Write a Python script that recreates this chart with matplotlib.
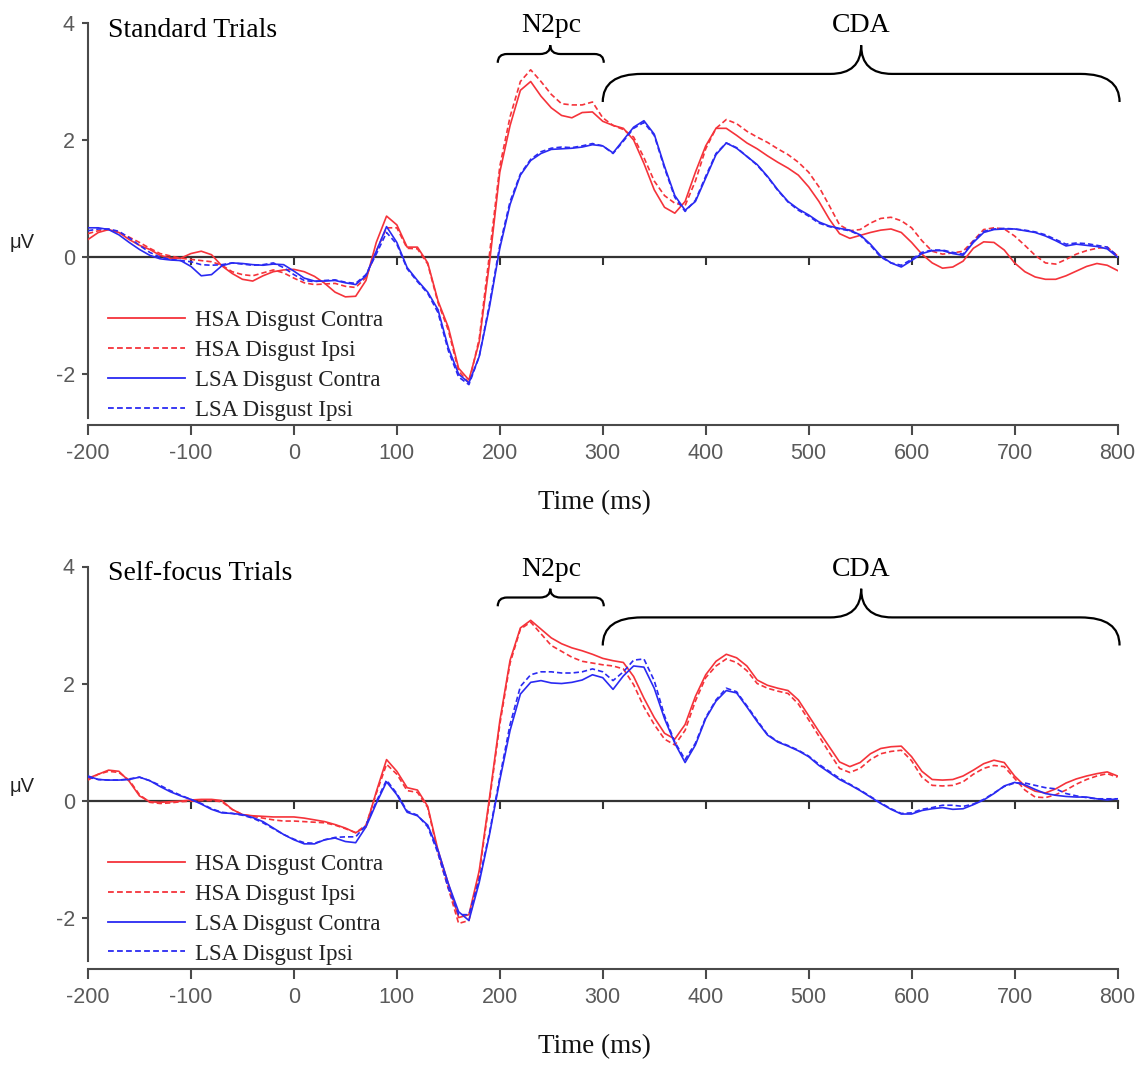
import numpy as np
import matplotlib
matplotlib.use("Agg")
import matplotlib.pyplot as plt
from matplotlib.path import Path
from matplotlib.patches import PathPatch
from matplotlib.lines import Line2D

plt.rcParams['axes.unicode_minus'] = False

# ---------------- data ----------------
times = list(range(-200, 801, 10))

series_labels = ["HSA Disgust Contra", "HSA Disgust Ipsi", "LSA Disgust Contra", "LSA Disgust Ipsi"]
panel_titles = ["Standard Trials", "Self-focus Trials"]
x_ticks = list(range(-200, 801, 100))
y_ticks = [-2, 0, 2, 4]
components = ["N2pc", "CDA"]

std_hsa_contra = [
    0.30, 0.42, 0.47, 0.42, 0.30, 0.20, 0.13, 0.03, -0.02, -0.02,
    0.06, 0.10, 0.04, -0.15, -0.28, -0.38, -0.41, -0.32, -0.25, -0.22,
    -0.21, -0.25, -0.33, -0.45, -0.60, -0.68, -0.67, -0.40, 0.25, 0.70,
    0.55, 0.17, 0.17, -0.10, -0.75, -1.20, -1.90, -2.10, -1.45, -0.10,
    1.45, 2.25, 2.85, 3.00, 2.75, 2.55, 2.42, 2.38, 2.47, 2.48,
    2.32, 2.25, 2.20, 2.00, 1.60, 1.15, 0.85, 0.75, 0.95, 1.45,
    1.90, 2.20, 2.20, 2.08, 1.95, 1.85, 1.73, 1.62, 1.52, 1.40,
    1.20, 0.95, 0.65, 0.40, 0.32, 0.37, 0.42, 0.46, 0.48, 0.42,
    0.25, 0.05, -0.10, -0.19, -0.17, -0.07, 0.15, 0.26, 0.25, 0.12,
    -0.10, -0.25, -0.34, -0.38, -0.38, -0.32, -0.24, -0.16, -0.11, -0.14,
    -0.23]
std_hsa_ipsi = [
    0.40, 0.45, 0.47, 0.42, 0.34, 0.25, 0.15, 0.06, 0.02, -0.02,
    -0.04, -0.06, -0.08, -0.14, -0.25, -0.30, -0.32, -0.27, -0.22, -0.27,
    -0.36, -0.44, -0.47, -0.46, -0.45, -0.50, -0.52, -0.35, 0.10, 0.50,
    0.50, 0.15, 0.14, -0.12, -0.78, -1.25, -1.95, -2.15, -1.40, 0.05,
    1.55, 2.40, 3.00, 3.20, 3.00, 2.78, 2.62, 2.60, 2.60, 2.65,
    2.38, 2.25, 2.18, 2.05, 1.70, 1.30, 1.05, 0.92, 0.88, 1.30,
    1.85, 2.20, 2.35, 2.28, 2.15, 2.05, 1.96, 1.85, 1.75, 1.62,
    1.45, 1.20, 0.88, 0.55, 0.45, 0.47, 0.58, 0.66, 0.68, 0.62,
    0.50, 0.28, 0.10, 0.05, 0.07, 0.10, 0.28, 0.47, 0.50, 0.48,
    0.36, 0.20, 0.03, -0.10, -0.12, -0.04, 0.05, 0.11, 0.15, 0.17,
    0.02]
std_lsa_contra = [
    0.50, 0.50, 0.47, 0.38, 0.25, 0.13, 0.03, -0.03, -0.05, -0.06,
    -0.16, -0.32, -0.30, -0.15, -0.10, -0.11, -0.13, -0.14, -0.12, -0.13,
    -0.24, -0.36, -0.41, -0.41, -0.40, -0.44, -0.47, -0.32, 0.10, 0.52,
    0.25, -0.18, -0.40, -0.60, -0.90, -1.55, -2.00, -2.15, -1.70, -0.85,
    0.15, 0.90, 1.40, 1.65, 1.77, 1.84, 1.85, 1.86, 1.88, 1.92,
    1.90, 1.78, 2.00, 2.22, 2.33, 2.10, 1.55, 1.05, 0.80, 0.95,
    1.35, 1.75, 1.95, 1.86, 1.72, 1.58, 1.38, 1.15, 0.95, 0.82,
    0.72, 0.60, 0.53, 0.49, 0.46, 0.38, 0.22, 0.02, -0.10, -0.17,
    -0.06, 0.06, 0.11, 0.11, 0.06, 0.03, 0.25, 0.42, 0.47, 0.48,
    0.48, 0.45, 0.42, 0.36, 0.28, 0.19, 0.22, 0.20, 0.18, 0.14,
    0.00]
std_lsa_ipsi = [
    0.45, 0.48, 0.48, 0.44, 0.33, 0.20, 0.08, 0.00, -0.04, -0.06,
    -0.08, -0.13, -0.14, -0.13, -0.10, -0.12, -0.14, -0.13, -0.10, -0.18,
    -0.30, -0.40, -0.42, -0.40, -0.39, -0.43, -0.45, -0.30, 0.05, 0.42,
    0.22, -0.20, -0.42, -0.62, -0.95, -1.60, -2.05, -2.18, -1.70, -0.80,
    0.20, 0.95, 1.42, 1.67, 1.80, 1.86, 1.88, 1.87, 1.90, 1.94,
    1.90, 1.77, 1.98, 2.20, 2.30, 2.08, 1.52, 1.02, 0.78, 0.97,
    1.38, 1.77, 1.95, 1.87, 1.72, 1.57, 1.37, 1.14, 0.94, 0.80,
    0.70, 0.58, 0.52, 0.48, 0.45, 0.37, 0.20, 0.00, -0.10, -0.14,
    -0.04, 0.08, 0.12, 0.12, 0.08, 0.05, 0.27, 0.44, 0.48, 0.49,
    0.48, 0.46, 0.43, 0.38, 0.30, 0.22, 0.24, 0.23, 0.20, 0.17,
    0.02]

self_hsa_contra = [
    0.38, 0.45, 0.52, 0.50, 0.33, 0.08, -0.02, -0.03, -0.02, -0.01,
    0.01, 0.02, 0.02, 0.00, -0.15, -0.24, -0.26, -0.27, -0.28, -0.28,
    -0.28, -0.30, -0.33, -0.36, -0.41, -0.47, -0.55, -0.45, 0.15, 0.70,
    0.50, 0.22, 0.18, -0.10, -0.85, -1.42, -2.00, -1.95, -1.20, 0.05,
    1.36, 2.40, 2.95, 3.08, 2.93, 2.78, 2.68, 2.61, 2.56, 2.50,
    2.43, 2.39, 2.36, 2.12, 1.75, 1.42, 1.15, 1.05, 1.30, 1.78,
    2.15, 2.38, 2.50, 2.44, 2.30, 2.06, 1.97, 1.92, 1.88, 1.72,
    1.45, 1.18, 0.92, 0.66, 0.58, 0.65, 0.80, 0.89, 0.92, 0.93,
    0.75, 0.50, 0.36, 0.35, 0.36, 0.42, 0.52, 0.63, 0.69, 0.65,
    0.42, 0.25, 0.16, 0.13, 0.20, 0.30, 0.37, 0.42, 0.46, 0.49,
    0.42]
self_hsa_ipsi = [
    0.35, 0.45, 0.50, 0.48, 0.35, 0.10, -0.03, -0.05, -0.04, -0.02,
    -0.01, 0.00, 0.00, -0.02, -0.15, -0.24, -0.27, -0.30, -0.33, -0.35,
    -0.35, -0.36, -0.37, -0.38, -0.42, -0.48, -0.55, -0.42, 0.12, 0.62,
    0.45, 0.17, 0.14, -0.12, -0.90, -1.50, -2.10, -2.05, -1.25, 0.00,
    1.30, 2.35, 2.93, 3.05, 2.85, 2.65, 2.55, 2.45, 2.38, 2.35,
    2.32, 2.30, 2.25, 1.98, 1.60, 1.30, 1.05, 0.95, 1.20, 1.70,
    2.10, 2.30, 2.42, 2.36, 2.22, 2.00, 1.92, 1.87, 1.83, 1.65,
    1.38, 1.10, 0.82, 0.55, 0.48, 0.55, 0.70, 0.80, 0.84, 0.86,
    0.68, 0.40, 0.26, 0.25, 0.26, 0.32, 0.45, 0.55, 0.60, 0.58,
    0.38, 0.18, 0.06, 0.05, 0.10, 0.18, 0.28, 0.36, 0.42, 0.46,
    0.40]
self_lsa_contra = [
    0.42, 0.36, 0.35, 0.35, 0.36, 0.40, 0.34, 0.24, 0.15, 0.08,
    0.02, -0.06, -0.15, -0.21, -0.22, -0.24, -0.29, -0.36, -0.47, -0.58,
    -0.67, -0.74, -0.74, -0.67, -0.64, -0.70, -0.72, -0.45, -0.05, 0.32,
    0.10, -0.20, -0.26, -0.42, -0.85, -1.42, -1.90, -2.05, -1.40, -0.58,
    0.35, 1.20, 1.82, 2.02, 2.05, 2.01, 2.00, 2.02, 2.06, 2.15,
    2.10, 1.90, 2.13, 2.30, 2.28, 1.92, 1.40, 0.98, 0.65, 0.95,
    1.40, 1.70, 1.88, 1.84, 1.60, 1.35, 1.12, 1.00, 0.93, 0.85,
    0.75, 0.60, 0.48, 0.36, 0.27, 0.17, 0.06, -0.05, -0.15, -0.23,
    -0.23, -0.17, -0.14, -0.12, -0.15, -0.14, -0.07, 0.01, 0.12, 0.25,
    0.31, 0.27, 0.19, 0.12, 0.09, 0.07, 0.06, 0.06, 0.03, 0.01,
    0.03]
self_lsa_ipsi = [
    0.40, 0.36, 0.35, 0.35, 0.37, 0.40, 0.34, 0.26, 0.17, 0.09,
    0.02, -0.05, -0.14, -0.20, -0.22, -0.25, -0.30, -0.38, -0.48, -0.58,
    -0.66, -0.72, -0.73, -0.67, -0.63, -0.62, -0.62, -0.42, -0.02, 0.35,
    0.12, -0.18, -0.25, -0.45, -0.90, -1.50, -1.95, -1.95, -1.35, -0.55,
    0.40, 1.30, 1.95, 2.15, 2.20, 2.20, 2.18, 2.18, 2.20, 2.25,
    2.20, 2.05, 2.20, 2.40, 2.42, 2.05, 1.45, 1.00, 0.70, 0.98,
    1.42, 1.72, 1.92, 1.86, 1.62, 1.37, 1.13, 1.01, 0.94, 0.86,
    0.76, 0.62, 0.50, 0.38, 0.28, 0.18, 0.07, -0.04, -0.14, -0.22,
    -0.21, -0.15, -0.12, -0.08, -0.08, -0.10, -0.06, 0.02, 0.13, 0.24,
    0.30, 0.30, 0.26, 0.22, 0.20, 0.12, 0.08, 0.05, 0.03, 0.03,
    0.03]

panels_data = [
    [std_hsa_contra, std_hsa_ipsi, std_lsa_contra, std_lsa_ipsi],
    [self_hsa_contra, self_hsa_ipsi, self_lsa_contra, self_lsa_ipsi],
]

# ---------------- style ----------------
RED = "#f5333a"
BLUE = "#2a2af2"
colors = [RED, RED, BLUE, BLUE]
styles = ["solid", "dashed", "solid", "dashed"]
SERIF = ["Liberation Serif", "DejaVu Serif"]
SANS = ["Liberation Sans", "DejaVu Sans"]
AXC = "#4a4a4a"
TICKC = "#5a5a5a"

W, H = 1148, 1066
fig = plt.figure(figsize=(W / 100, H / 100), dpi=100)

YMIN, YMAX = -2.87, 4.0
ax_left = 88 / W
ax_width = 1029.5 / W
ax_height = 402 / H
bottoms_px = [425, 968.5]


def brace(ax, x0, x1, xm, y_end, y_mid, y_tip, r_end, r_tip):
    verts = [(x0, y_end), (x0, y_mid), (x0 + r_end, y_mid),
             (xm - r_tip, y_mid), (xm, y_mid), (xm, y_tip),
             (xm, y_mid), (xm + r_tip, y_mid),
             (x1 - r_end, y_mid), (x1, y_mid), (x1, y_end)]
    codes = [Path.MOVETO, Path.CURVE3, Path.CURVE3,
             Path.LINETO, Path.CURVE3, Path.CURVE3,
             Path.CURVE3, Path.CURVE3,
             Path.LINETO, Path.CURVE3, Path.CURVE3]
    ax.add_patch(PathPatch(Path(verts, codes), fill=False, lw=1.6,
                           edgecolor="black", clip_on=False, zorder=5))


for p, (bpx, title, data) in enumerate(zip(bottoms_px, panel_titles, panels_data)):
    ax = fig.add_axes([ax_left, 1 - bpx / H, ax_width, ax_height])
    ax.set_xlim(-200, 800)
    ax.set_ylim(YMIN, YMAX)
    ax.patch.set_alpha(0)

    handles = []
    for vals, c, ls, lab in zip(data, colors, styles, series_labels):
        ln, = ax.plot(times, vals, color=c, lw=1.2, linestyle=ls, label=lab,
                      solid_joinstyle="round", zorder=3)
        if ls == "dashed":
            ln.set_dashes((3.2, 1.8))
        handles.append(ln)

    for s in ["top", "right"]:
        ax.spines[s].set_visible(False)
    ax.spines["left"].set_bounds(-2.75, 4)
    ax.spines["left"].set_color(AXC)
    ax.spines["left"].set_linewidth(1.5)
    ax.spines["bottom"].set_color(AXC)
    ax.spines["bottom"].set_linewidth(1.5)

    ax.set_xticks(x_ticks)
    ax.set_xticklabels([str(v) for v in x_ticks], family=SANS, fontsize=15.5, color=TICKC)
    ax.set_yticks(y_ticks)
    ax.set_yticklabels([str(v) for v in y_ticks], family=SANS, fontsize=15.5, color=TICKC)
    ax.tick_params(axis="x", length=7, width=1.5, color=AXC, pad=6)
    ax.tick_params(axis="y", length=4.5, width=1.5, color=AXC, pad=5)

    # zero line with its own ticks
    frac = (0 - YMIN) / (YMAX - YMIN)
    sec = ax.secondary_xaxis(frac)
    sec.set_xticks(list(range(-100, 801, 100)))
    sec.tick_params(axis="x", length=6, width=1.5, color="#333333",
                    labelbottom=False, labeltop=False, direction="out")
    for s in sec.spines.values():
        s.set_color("#333333")
        s.set_linewidth(1.6)

    # panel title
    ax.text(-181, 3.88, title, family=SERIF, fontsize=20, ha="left", va="center")

    # component braces and labels
    brace(ax, 198, 301, 249, 3.32, 3.47, 3.62, 9, 10)
    brace(ax, 300, 802, 551, 2.65, 3.13, 3.62, 38, 30)
    ax.text(250, 3.95, components[0], family=SERIF, fontsize=20, ha="center", va="center")
    ax.text(551, 3.95, components[1], family=SERIF, fontsize=20, ha="center", va="center")

    leg = ax.legend(handles=[Line2D([0], [0], color=c, lw=1.3, linestyle=ls,
                                    dashes=((3.2, 1.8) if ls == "dashed" else (None, None)))
                             for c, ls in zip(colors, styles)],
                    labels=series_labels, loc="upper left",
                    bbox_to_anchor=(0.0194, 0.286), frameon=False,
                    prop={"family": SERIF, "size": 16.5},
                    handlelength=3.36, handletextpad=0.44, labelspacing=0.39,
                    borderpad=0, borderaxespad=0)
    for t in leg.get_texts():
        t.set_color("#222222")

    # y unit label and x title
    off = 0 if p == 0 else 543.5
    fig.text(10 / W, 1 - (243 + off) / H, "\u03bcV", family=SANS, fontsize=14.5,
             ha="left", va="center", color="#222222")
    fig.text(594 / W, 1 - (503 + off) / H, "Time (ms)", family=SERIF, fontsize=19.5,
             ha="center", va="center", color="#111111")

fig.savefig("out.png", dpi=100)
